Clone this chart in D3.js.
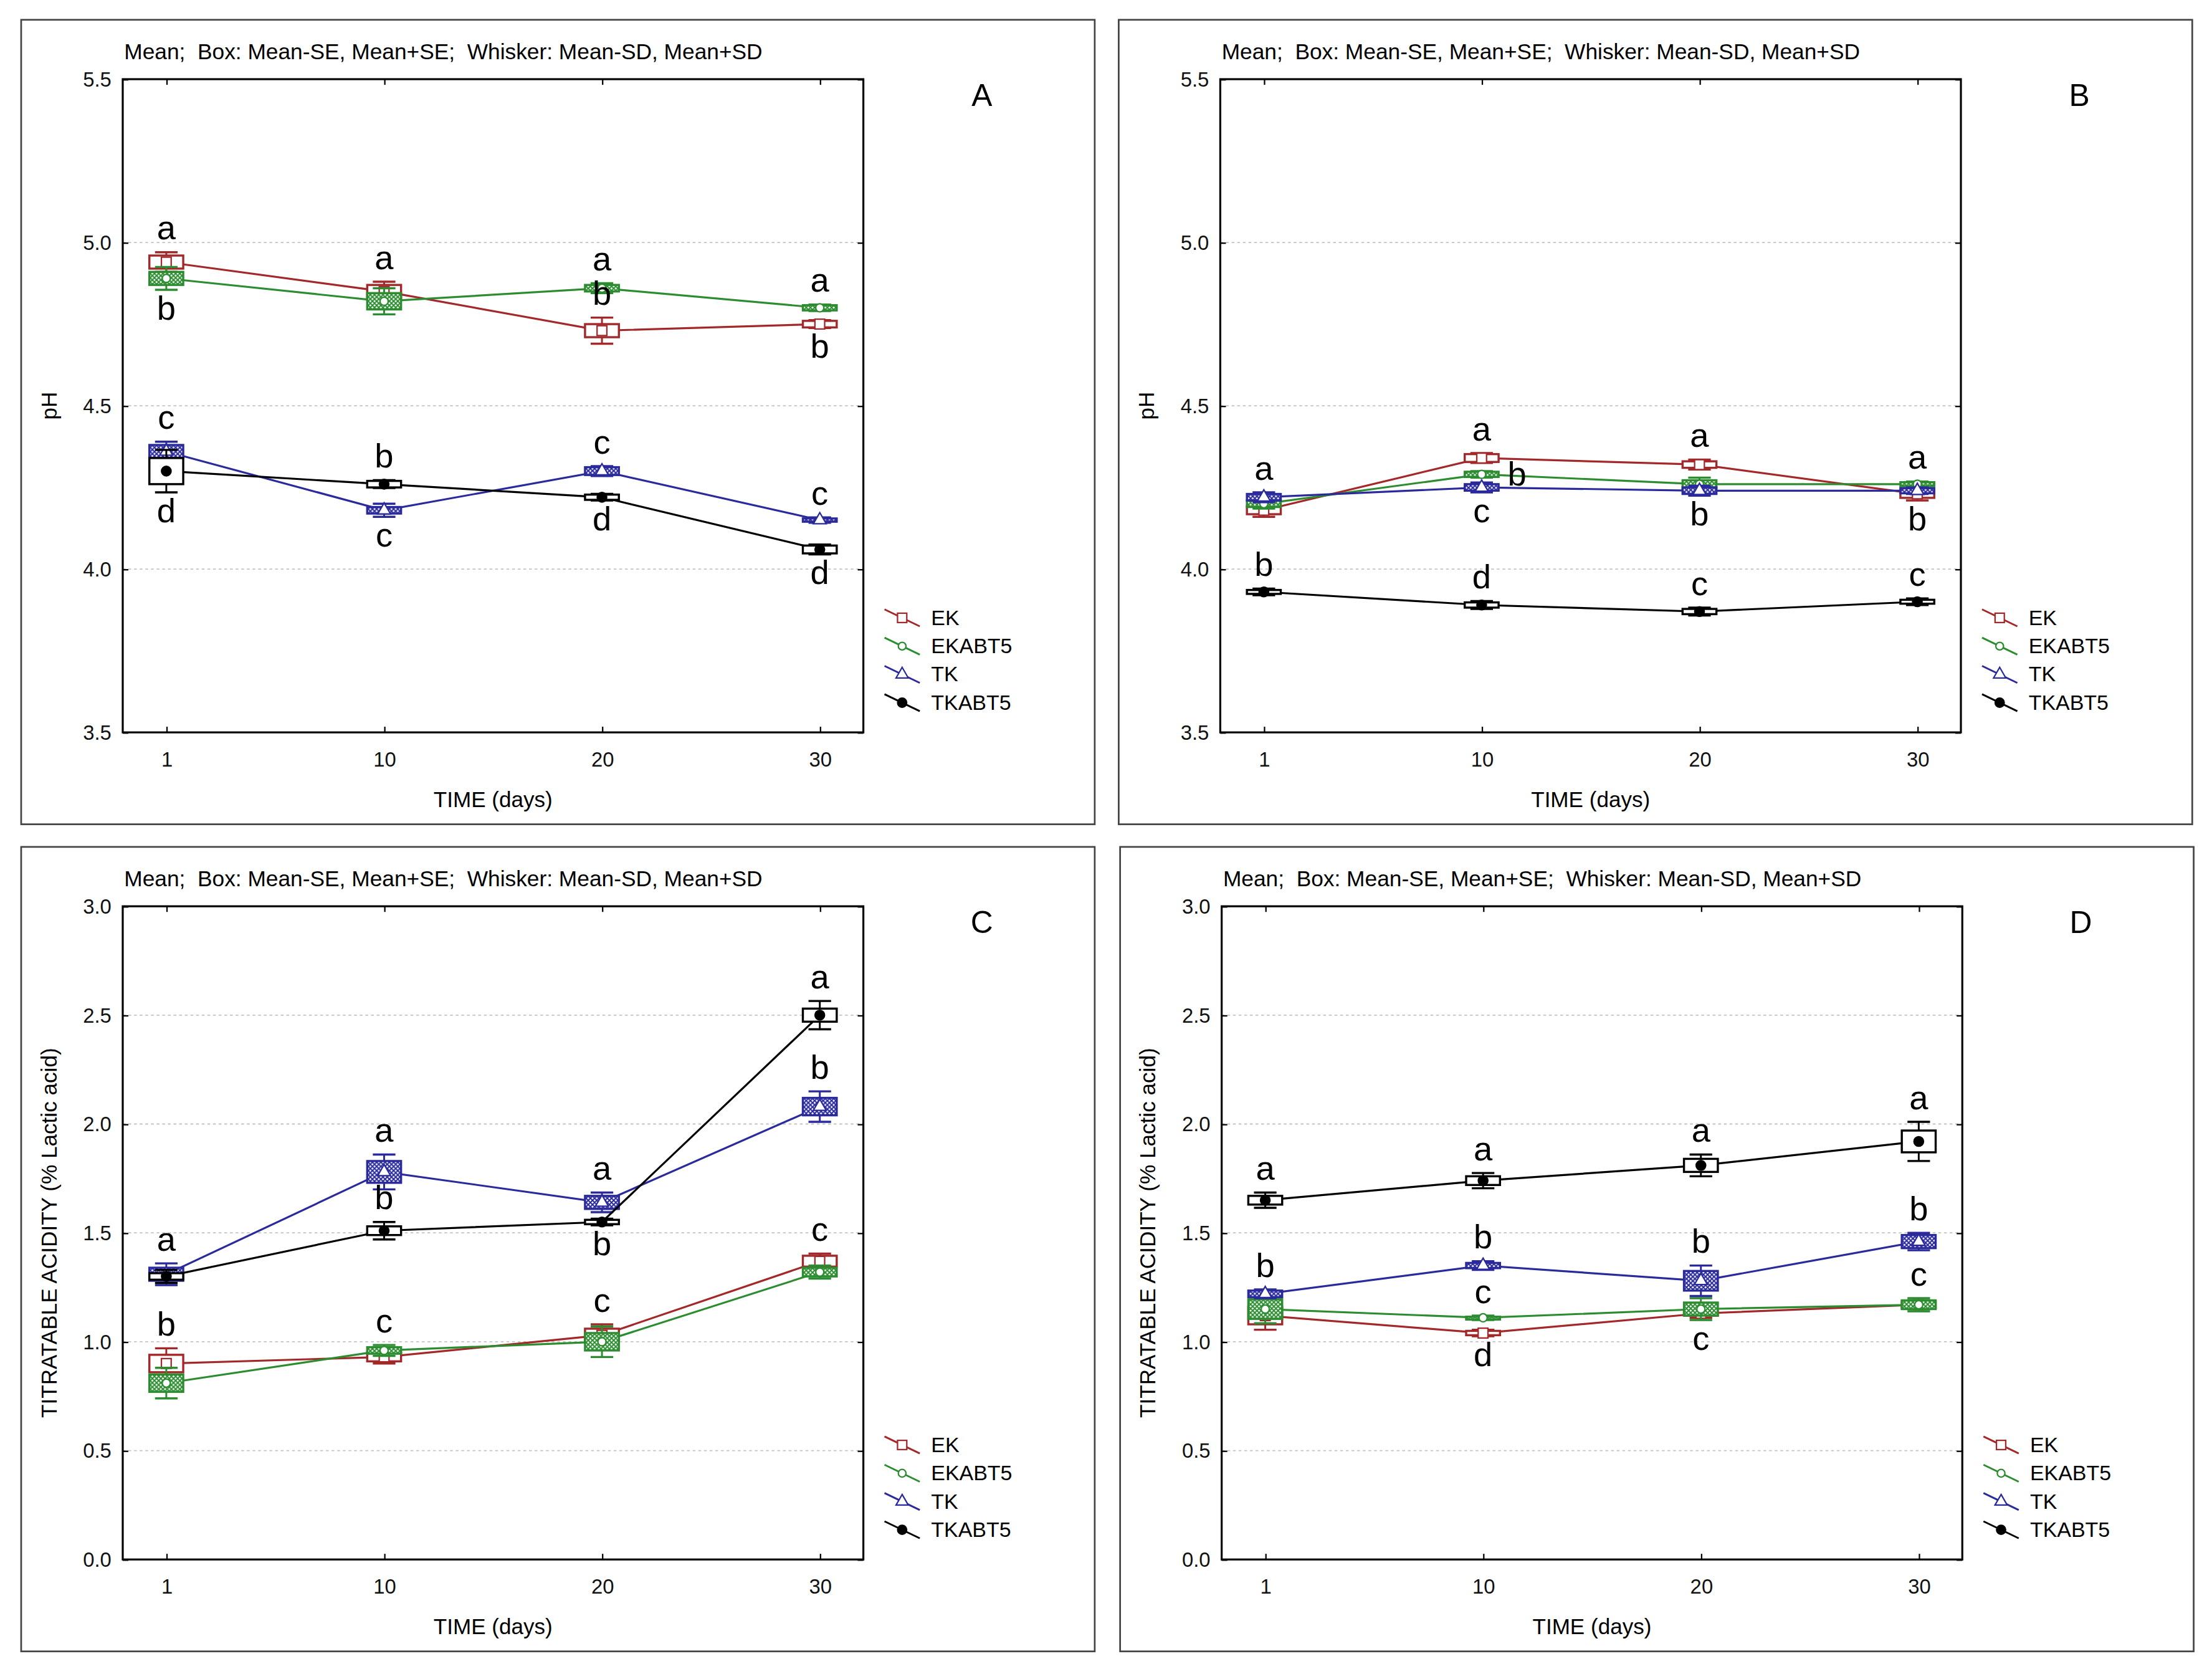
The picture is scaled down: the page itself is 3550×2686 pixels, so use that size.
<!DOCTYPE html>
<html>
<head>
<meta charset="utf-8">
<title>pH and titratable acidity during storage</title>
<script src="https://cdnjs.cloudflare.com/ajax/libs/d3/7.8.5/d3.min.js"></script>
<style>
 html, body { margin: 0; padding: 0; background: #fff; }
 svg { display: block; font-family: "Liberation Sans", Arial, sans-serif; }
 .sub { white-space: pre; }
</style>
</head>
<body>
<div id="chart"></div>
<script>
// ---- data -----------------------------------------------------------
const days = ["1", "10", "20", "30"];
const groups = ["EK", "EKABT5", "TK", "TKABT5"];
const phTicks = [3.5, 4.0, 4.5, 5.0, 5.5];
const taTicks = [0.0, 0.5, 1.0, 1.5, 2.0, 2.5, 3.0];
const subtitle = "Mean;  Box: Mean-SE, Mean+SE;  Whisker: Mean-SD, Mean+SD";

// rows follow groups, columns follow days
const meanA = [[4.94, 4.85, 4.73, 4.75], [4.89, 4.82, 4.86, 4.80], [4.36, 4.18, 4.30, 4.15], [4.30, 4.26, 4.22, 4.06]];
const seA   = [[0.02, 0.02, 0.02, 0.01], [0.02, 0.025, 0.01, 0.008], [0.02, 0.01, 0.012, 0.005], [0.04, 0.01, 0.008, 0.012]];
const sdA   = [[0.03, 0.03, 0.04, 0.012], [0.035, 0.04, 0.015, 0.01], [0.03, 0.02, 0.015, 0.008], [0.065, 0.012, 0.01, 0.015]];
const lettersA = [[0, "a", 0, "above"], [0, "b", 1, "below"], [1, "a", 0, "above"], [2, "a", 1, "above"], [2, "b", 0, "above"],
                  [3, "a", 1, "above"], [3, "b", 0, "below"], [0, "c", 2, "above"], [0, "d", 3, "below"], [1, "b", 3, "above"],
                  [1, "c", 2, "below"], [2, "c", 2, "above"], [2, "d", 3, "below"], [3, "c", 2, "above"], [3, "d", 3, "below"]];

const meanB = [[4.18, 4.34, 4.32, 4.23], [4.20, 4.29, 4.26, 4.26], [4.22, 4.25, 4.24, 4.24], [3.93, 3.89, 3.87, 3.90]];
const seB   = [[0.012, 0.012, 0.01, 0.012], [0.01, 0.008, 0.012, 0.006], [0.01, 0.01, 0.01, 0.008], [0.006, 0.008, 0.008, 0.006]];
const sdB   = [[0.02, 0.015, 0.015, 0.02], [0.015, 0.01, 0.02, 0.008], [0.015, 0.015, 0.015, 0.01], [0.01, 0.012, 0.012, 0.01]];
const lettersB = [[0, "a", 2, "above"], [0, "b", 3, "above"], [1, "a", 0, "above"], [1, "b", 1, "right"], [1, "c", 2, "below"],
                  [1, "d", 3, "above"], [2, "a", 0, "above"], [2, "b", 2, "below"], [2, "c", 3, "above"], [3, "a", 1, "above"],
                  [3, "b", 0, "below"], [3, "c", 3, "above"]];

const meanC = [[0.90, 0.93, 1.03, 1.37], [0.81, 0.96, 1.00, 1.32], [1.31, 1.78, 1.64, 2.08], [1.30, 1.51, 1.55, 2.50]];
const seC   = [[0.04, 0.02, 0.03, 0.025], [0.04, 0.015, 0.04, 0.02], [0.03, 0.05, 0.03, 0.04], [0.015, 0.02, 0.01, 0.03]];
const sdC   = [[0.07, 0.03, 0.05, 0.035], [0.07, 0.025, 0.07, 0.03], [0.05, 0.08, 0.045, 0.07], [0.03, 0.04, 0.015, 0.065]];
const lettersC = [[0, "a", 2, "above"], [0, "b", 0, "above"], [1, "a", 2, "above"], [1, "b", 3, "above"], [1, "c", 1, "above"],
                  [2, "a", 2, "above"], [2, "b", 3, "below"], [2, "c", 0, "above"], [3, "a", 3, "above"], [3, "b", 2, "above"],
                  [3, "c", 0, "above"]];

const meanD = [[1.12, 1.04, 1.13, 1.17], [1.15, 1.11, 1.15, 1.17], [1.22, 1.35, 1.28, 1.46], [1.65, 1.74, 1.81, 1.92]];
const seD   = [[0.04, 0.01, 0.01, 0.015], [0.045, 0.005, 0.03, 0.02], [0.015, 0.012, 0.045, 0.03], [0.02, 0.02, 0.03, 0.05]];
const sdD   = [[0.065, 0.015, 0.02, 0.02], [0.065, 0.01, 0.05, 0.03], [0.02, 0.02, 0.07, 0.04], [0.035, 0.035, 0.05, 0.09]];
const lettersD = [[0, "a", 3, "above"], [0, "b", 2, "above"], [1, "a", 3, "above"], [1, "b", 2, "above"], [1, "c", 1, "above"],
                  [1, "d", 0, "below"], [2, "a", 3, "above"], [2, "b", 2, "above"], [2, "c", 1, "below"], [3, "a", 3, "above"],
                  [3, "b", 2, "above"], [3, "c", 1, "above"]];

// ---- style ----------------------------------------------------------
const colors = ["#a3282a", "#2c8c30", "#2a2a9c", "#000000"];
const fills = ["#fff", "url(#hatch1)", "url(#hatch2)", "#fff"];
const symbols = [d3.symbolSquare, d3.symbolCircle, d3.symbolTriangle, d3.symbolCircle];
const symbolSize = [48, 26, 36, 36];
const symbolFill = ["#fff", "#fff", "#fff", "#000"];

const W = 1568, H = 1184;
const svg = d3.select("#chart").append("svg")
    .attr("width", 3550).attr("height", 2686)
    .attr("viewBox", `0 0 ${W} ${H}`)
    .attr("preserveAspectRatio", "none");
svg.append("rect").attr("width", W).attr("height", H).attr("fill", "#fff");

const defs = svg.append("defs");
[1, 2].forEach(i => {
    const p = defs.append("pattern").attr("id", "hatch" + i)
        .attr("patternUnits", "userSpaceOnUse").attr("width", 3).attr("height", 3);
    p.append("rect").attr("width", 3).attr("height", 3).attr("fill", "#fff");
    p.append("path").attr("d", "M0,0L3,3M3,0L0,3")
        .attr("stroke", colors[i]).attr("stroke-width", 0.9);
});

const panels = [
    {label: "A", fx: 15,  fy: 14,  ticks: phTicks, yTitle: "pH", mean: meanA, se: seA, sd: sdA, letters: lettersA},
    {label: "B", fx: 793, fy: 14,  ticks: phTicks, yTitle: "pH", mean: meanB, se: seB, sd: sdB, letters: lettersB},
    {label: "C", fx: 15,  fy: 599, ticks: taTicks, yTitle: "TITRATABLE ACIDITY (% Lactic acid)", mean: meanC, se: seC, sd: sdC, letters: lettersC},
    {label: "D", fx: 794, fy: 599, ticks: taTicks, yTitle: "TITRATABLE ACIDITY (% Lactic acid)", mean: meanD, se: seD, sd: sdD, letters: lettersD}
];

function drawPanel(p) {
    const fw = 761, fh = 569;
    const left = p.fx + 72, top = p.fy + 42, width = 525, height = 462;
    const g = svg.append("g");

    // outer frame
    g.append("rect").attr("x", p.fx).attr("y", p.fy).attr("width", fw).attr("height", fh)
        .attr("fill", "none").attr("stroke", "#444").attr("stroke-width", 1.2);

    const x = d3.scalePoint().domain(days).range([left, left + width]).padding(0.2);
    const y = d3.scaleLinear().domain(d3.extent(p.ticks)).range([top + height, top]);

    // dotted grid
    g.selectAll(".grid").data(p.ticks.slice(1, -1)).join("line")
        .attr("x1", left).attr("x2", left + width)
        .attr("y1", d => y(d)).attr("y2", d => y(d))
        .attr("stroke", "#c4c4c4").attr("stroke-width", 0.8).attr("stroke-dasharray", "2,2");

    // axes
    const fmt = d3.format(".1f");
    const ax = [
        g.append("g").attr("transform", `translate(${left},0)`)
            .call(d3.axisLeft(y).tickValues(p.ticks).tickFormat(fmt).tickSize(-4).tickPadding(8)),
        g.append("g").attr("transform", `translate(${left + width},0)`)
            .call(d3.axisRight(y).tickValues(p.ticks).tickFormat("").tickSize(-4)),
        g.append("g").attr("transform", `translate(0,${top + height})`)
            .call(d3.axisBottom(x).tickSize(-4).tickPadding(14)),
        g.append("g").attr("transform", `translate(0,${top})`)
            .call(d3.axisTop(x).tickFormat("").tickSize(-4))
    ];
    ax.forEach(a => {
        a.select(".domain").remove();
        a.selectAll("line").attr("stroke", "#000").attr("stroke-width", 1);
        a.selectAll("text").attr("font-size", 14.5).attr("fill", "#111")
            .attr("font-family", "'Liberation Sans', Arial, sans-serif");
    });

    // plot border
    g.append("rect").attr("x", left).attr("y", top).attr("width", width).attr("height", height)
        .attr("fill", "none").attr("stroke", "#000").attr("stroke-width", 1.4);

    // titles
    g.append("text").attr("class", "sub").attr("xml:space", "preserve")
        .attr("x", left + 1).attr("y", top - 14).attr("font-size", 15.6)
        .text(subtitle);
    g.append("text").attr("x", left + width / 2).attr("y", top + height + 53)
        .attr("text-anchor", "middle").attr("font-size", 15.5).text("TIME (days)");
    g.append("text").attr("transform", `translate(${p.fx + 25},${top + height / 2}) rotate(-90)`)
        .attr("text-anchor", "middle").attr("font-size", 15.5).text(p.yTitle);
    g.append("text").attr("x", p.fx + fw - 80).attr("y", top + 19)
        .attr("text-anchor", "middle").attr("font-size", 22).text(p.label);

    // series: line, whiskers, boxes, means
    const line = d3.line().x((d, i) => x(days[i])).y(d => y(d));
    groups.forEach((name, gi) => {
        const c = colors[gi];
        const s = g.append("g");
        s.append("path").datum(p.mean[gi]).attr("d", line)
            .attr("fill", "none").attr("stroke", c).attr("stroke-width", 1.4);
        const pts = p.mean[gi].map((m, di) => ({day: days[di], m: m, se: p.se[gi][di], sd: p.sd[gi][di]}));
        const item = s.selectAll(".pt").data(pts).join("g");
        item.append("line")
            .attr("x1", d => x(d.day)).attr("x2", d => x(d.day))
            .attr("y1", d => y(d.m + d.sd)).attr("y2", d => y(d.m - d.sd))
            .attr("stroke", c).attr("stroke-width", 1.3);
        [1, -1].forEach(k => {
            item.append("line")
                .attr("x1", d => x(d.day) - 8).attr("x2", d => x(d.day) + 8)
                .attr("y1", d => y(d.m + k * d.sd)).attr("y2", d => y(d.m + k * d.sd))
                .attr("stroke", c).attr("stroke-width", 1.5);
        });
        item.append("rect")
            .attr("x", d => x(d.day) - 12).attr("width", 24)
            .attr("y", d => y(d.m + d.se))
            .attr("height", d => Math.max(2, y(d.m - d.se) - y(d.m + d.se)))
            .attr("fill", fills[gi]).attr("stroke", c).attr("stroke-width", 1.5);
        item.append("path")
            .attr("d", d3.symbol().type(symbols[gi]).size(symbolSize[gi]))
            .attr("transform", d => `translate(${x(d.day)},${y(d.m)})`)
            .attr("fill", symbolFill[gi]).attr("stroke", c).attr("stroke-width", 1);
    });

    // significance letters
    p.letters.forEach(([di, txt, gi, side]) => {
        const m = p.mean[gi][di], sd = p.sd[gi][di];
        let tx = x(days[di]), ty;
        if (side === "above") ty = y(m + sd) - 9;
        else if (side === "below") ty = y(m - sd) + 21;
        else { tx += 25; ty = y(m) + 8; }
        g.append("text").attr("x", tx).attr("y", ty).attr("text-anchor", "middle")
            .attr("font-size", 24).attr("fill", "#000").text(txt);
    });

    // legend
    groups.forEach((name, i) => {
        const lx = left + width + 15, cy = top + height - 81 + i * 20;
        const lg = g.append("g");
        lg.append("line").attr("x1", lx).attr("y1", cy - 6).attr("x2", lx + 25).attr("y2", cy + 6)
            .attr("stroke", colors[i]).attr("stroke-width", 1.3);
        lg.append("path").attr("d", d3.symbol().type(symbols[i]).size(symbolSize[i] * 0.9))
            .attr("transform", `translate(${lx + 12.5},${cy})`)
            .attr("fill", symbolFill[i]).attr("stroke", colors[i]).attr("stroke-width", 1);
        lg.append("text").attr("x", lx + 33).attr("y", cy + 5).attr("font-size", 15).text(name);
    });
}

panels.forEach(drawPanel);
</script>
</body>
</html>
